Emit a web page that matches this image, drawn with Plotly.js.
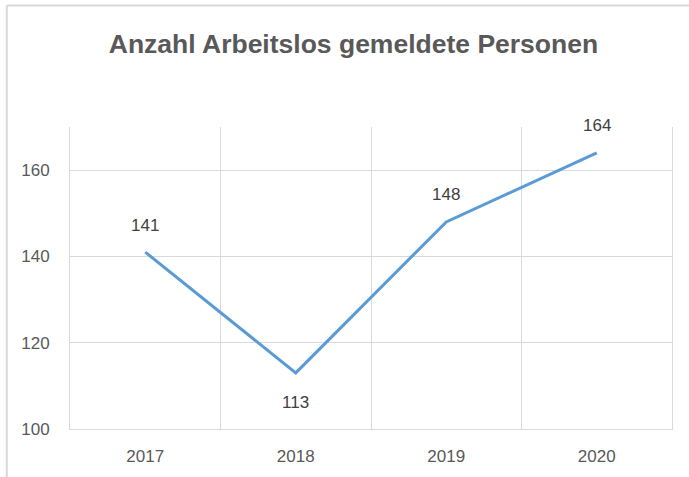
<!DOCTYPE html>
<html><head><meta charset="utf-8">
<script src="https://cdn.plot.ly/plotly-3.0.1.min.js"></script>
<style>html,body{margin:0;padding:0;background:#fff}#c{width:689px;height:477px}</style>
</head><body><div id="c"></div>
<script>
const years = ['2017', '2018', '2019', '2020'];
const values = [141, 113, 148, 164];
const labelSide = [1, -1, 1, 1];
const yTicks = [100, 120, 140, 160];

const xIdx = years.map((_, i) => i);
const grey = '#595959';
const gridC = '#d9d9d9';
const fam = 'Liberation Sans, Arial, sans-serif';
const famTitle = 'Liberation Sans Narrow, Arial Narrow, sans-serif';

const trace = {
  x: xIdx, y: values, type: 'scatter', mode: 'lines',
  line: {color: '#5B9BD5', width: 3}, hoverinfo: 'skip'
};

const annotations = values.map((v, i) => ({
  x: i, y: v, xref: 'x', yref: 'y', text: String(v), showarrow: false,
  yshift: (labelSide[i] > 0 ? 27 : 30) * labelSide[i], font: {family: fam, size: 17, color: '#404040'}
}));

const layout = {
  width: 689, height: 477,
  margin: {l: 70, r: 17, t: 127, b: 48},
  paper_bgcolor: '#fff', plot_bgcolor: '#fff',
  showlegend: false,
  title: {text: '<b>Anzahl Arbeitslos gemeldete Personen</b>', x: 0.513, xanchor: 'center', y: 0.908, yanchor: 'middle',
    font: {family: famTitle, size: 26.5, color: grey}},
  xaxis: {range: [-0.5, 3.5], tickvals: xIdx, ticktext: years, showgrid: false, zeroline: false,
    showline: true, linecolor: gridC, linewidth: 1, ticks: '', ticklen: 0, ticklabelstandoff: 12,
    tickfont: {family: fam, size: 17, color: grey},
    minor: {tickvals: [0.5, 1.5, 2.5], showgrid: true, gridcolor: gridC, gridwidth: 1, ticks: ''},
    fixedrange: true},
  yaxis: {range: [100, 170], tickvals: yTicks, showgrid: true, gridcolor: gridC, gridwidth: 1, zeroline: false,
    showline: true, mirror: true, linecolor: gridC, linewidth: 1, ticks: '', ticklabelstandoff: 16,
    tickfont: {family: fam, size: 17, color: grey}, fixedrange: true},
  annotations: annotations,
  shapes: [
    {type: 'line', xref: 'paper', yref: 'paper', x0: -0.105, x1: 1.1, y0: 1.402, y1: 1.402, line: {color: '#d9d9d9', width: 2}},
    {type: 'line', xref: 'paper', yref: 'paper', x0: -0.105, x1: -0.105, y0: 1.402, y1: -0.3, line: {color: '#d9d9d9', width: 2}}
  ]
};

Plotly.newPlot('c', [trace], layout, {displayModeBar: false, staticPlot: true});
</script></body></html>
